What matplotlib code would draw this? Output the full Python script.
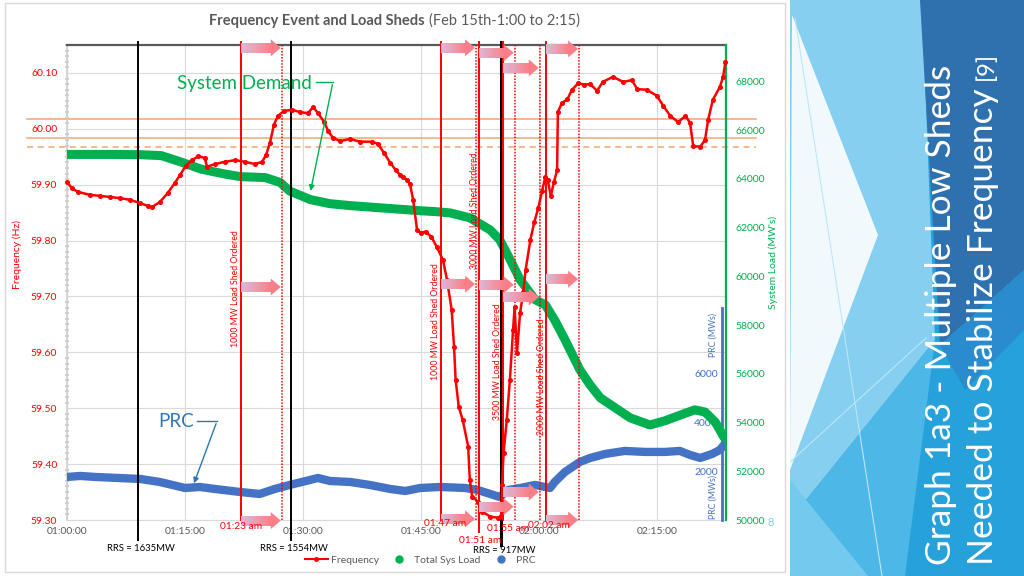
import numpy as np
import matplotlib
matplotlib.use("Agg")
import matplotlib.pyplot as plt
from matplotlib.lines import Line2D
from matplotlib.patches import Polygon, Rectangle
from matplotlib.ticker import FixedLocator, MultipleLocator, FuncFormatter
from matplotlib.colors import to_rgb

plt.rcParams['font.family'] = ['Lato', 'DejaVu Sans']

# ---- data (time = minutes after 01:00) ----
freq_t = [0.0, 0.6, 1.4, 2.9, 4.2, 5.5, 6.7, 8.0, 9.3, 10.3, 10.8, 11.8, 12.8, 13.7, 14.4,
          15.1, 15.9, 16.7, 17.5, 17.8, 18.8, 20.1, 21.4, 22.6, 23.9, 24.8, 25.3, 25.8, 26.3,
          26.8, 27.6, 28.6, 29.6, 30.6, 31.3, 31.9, 32.7, 33.2, 33.8, 34.7, 36.0, 37.2, 38.8,
          39.5, 40.3, 41.1, 41.8, 42.3, 42.7, 43.2, 43.6, 44.0, 44.5, 45.0, 45.6, 46.3, 47.0,
          47.8, 48.3, 48.9, 49.2, 49.4, 49.8, 50.3, 51.0, 51.2, 51.5, 52.2, 52.8, 53.8, 54.8,
          55.2, 55.3, 55.5, 55.9, 56.3, 56.7, 56.9, 57.2, 57.6, 58.0, 58.3, 58.9, 59.4, 59.9,
          60.4, 60.8, 61.1, 61.5, 61.9, 62.3, 62.4, 62.9, 63.6, 64.2, 65.0, 65.7, 66.5, 67.4,
          68.1, 69.4, 70.7, 71.8, 72.5, 73.7, 75.0, 75.8, 76.7, 77.7, 78.6, 79.2, 79.6, 80.5,
          81.1, 81.5, 82.1, 83.0, 83.4, 83.7]
freq_hz = [59.905, 59.894, 59.887, 59.882, 59.880, 59.878, 59.876, 59.873, 59.867, 59.862,
           59.860, 59.869, 59.885, 59.903, 59.918, 59.934, 59.944, 59.951, 59.948, 59.932,
           59.937, 59.941, 59.944, 59.941, 59.937, 59.941, 59.953, 59.975, 60.007, 60.023,
           60.032, 60.034, 60.030, 60.028, 60.039, 60.028, 60.012, 59.996, 59.984, 59.978,
           59.982, 59.977, 59.977, 59.973, 59.957, 59.939, 59.926, 59.918, 59.914, 59.909,
           59.901, 59.873, 59.819, 59.814, 59.816, 59.807, 59.789, 59.765, 59.730, 59.676,
           59.610, 59.551, 59.502, 59.479, 59.431, 59.372, 59.342, 59.333, 59.315, 59.306,
           59.304, 59.308, 59.363, 59.420, 59.479, 59.551, 59.640, 59.681, 59.599, 59.671,
           59.708, 59.748, 59.801, 59.833, 59.858, 59.889, 59.914, 59.909, 59.880, 59.905,
           59.926, 60.030, 60.046, 60.053, 60.070, 60.082, 60.079, 60.080, 60.068, 60.084,
           60.093, 60.084, 60.087, 60.071, 60.070, 60.059, 60.041, 60.023, 60.012, 60.023,
           60.011, 59.969, 59.968, 59.980, 60.016, 60.052, 60.075, 60.093, 60.120]

load_t = [0.0, 5.0, 9.3, 12.0, 14.4, 17.0, 20.0, 22.0, 25.2, 27.1, 28.3, 30.9, 33.4, 36.0,
          39.8, 44.9, 47.0, 48.7, 51.2, 53.8, 55.0, 56.3, 57.6, 59.5, 60.8, 62.0, 63.3, 65.2,
          66.5, 67.8, 69.7, 71.6, 74.1, 76.0, 78.0, 79.8, 81.1, 82.4, 83.5]
load_mw = [65000, 65000, 64990, 64950, 64700, 64400, 64200, 64090, 64050, 63850, 63500, 63150,
           62980, 62900, 62810, 62690, 62650, 62600, 62400, 61900, 61500, 60700, 59860, 59040,
           58830, 58200, 57400, 56160, 55540, 55010, 54600, 54190, 53900, 54070, 54310, 54520,
           54430, 54020, 53400]

prc_t = [0.0, 1.7, 3.6, 9.3, 11.8, 15.0, 16.9, 18.8, 22.0, 24.5, 26.4, 28.3, 30.9, 31.9, 33.4,
         36.0, 38.5, 41.1, 43.0, 44.9, 47.4, 50.6, 52.2, 53.8, 55.0, 56.1, 57.6, 59.5, 61.4,
         62.0, 63.3, 65.2, 66.5, 68.4, 70.9, 73.5, 76.0, 77.9, 79.2, 80.5, 82.0, 83.0, 83.5]
prc_mw = [1766, 1807, 1766, 1684, 1560, 1314, 1355, 1273, 1150, 1068, 1273, 1437, 1643, 1725,
          1602, 1560, 1437, 1273, 1191, 1314, 1355, 1314, 1232, 1068, 945, 1232, 1314, 1437,
          1314, 1560, 1971, 2382, 2546, 2710, 2834, 2793, 2793, 2834, 2669, 2546, 2710, 2875, 3080]

shed_order = [22.1, 47.5, 52.4, 55.4, 60.9]        # solid red lines
shed_done = [27.3, 52.0, 56.9, 60.1, 65.1]         # dotted red lines
shed_mw_text = ['1000 MW Load Shed Ordered', '1000 MW Load Shed Ordered',
                '3000 MW Load Shed Ordered', '3500 MW Load Shed Ordered',
                '2000 MW Load Shed Ordered']
shed_text_y = [59.714, 59.655, 59.853, 59.583, 59.556]
shed_time = ['01:23 am', '01:47 am', '01:51 am', '01:55 am', '02:02 am']
shed_time_x = [22.1, 48.0, 52.5, 56.1, 61.3]
shed_time_y = [59.288, 59.293, 59.264, 59.284, 59.291]
arrow_top = [60.145, 60.145, 60.136, 60.109, 60.143]
arrow_mid = [59.717, 59.722, 59.721, 59.699, 59.731]
arrow_bot = [59.299, 59.302, 59.324, 59.350, 59.300]

rrs_t = [9.0, 28.5, 55.2]
rrs_labels = ['RRS = 1635MW', 'RRS = 1554MW', 'RRS = 917MW']

band_solid = [60.017, 59.983]
band_dashed = [59.967]

RED = '#FF0000'
GREEN = '#00B050'
BLUE = '#4472C4'
GREY = '#595959'

fig = plt.figure(figsize=(10.24, 5.76), dpi=100)
W, H = 1024, 576
fig.add_artist(Rectangle((5 / W, 1 - 572 / H), 780 / W, 569 / H, transform=fig.transFigure,
                         facecolor='none', edgecolor='#D9D9D9', lw=1, zorder=-1))

pos = [67 / W, 1 - 520 / H, (726 - 67) / W, (520 - 45) / H]
ax = fig.add_axes(pos)
ax2 = ax.twinx()
ax3 = ax.twinx()
ax4 = ax.twinx()
ax.set_zorder(0)
ax3.set_zorder(0.5)
ax2.set_zorder(1)
ax4.set_zorder(2)

xmax = 83.77
for a in (ax, ax2, ax3, ax4):
    a.set_xlim(0, xmax)
ax.set_ylim(59.30, 60.150)
ax4.set_ylim(59.30, 60.150)
ax2.set_ylim(50000, 69490)
ax3.set_ylim(0, 19490)

# frequency axis
ax.xaxis.set_major_locator(FixedLocator([0, 15, 30, 45, 60, 75]))
ax.xaxis.set_major_formatter(FuncFormatter(lambda v, p: '%02d:%02d:00' % (1 + int(v) // 60, int(v) % 60)))
ax.yaxis.set_major_locator(FixedLocator(np.round(np.arange(59.30, 60.11, 0.10), 2)))
ax.yaxis.set_minor_locator(MultipleLocator(0.01))
ax.yaxis.set_major_formatter(FuncFormatter(lambda v, p: '%.2f' % v))
ax.tick_params(axis='y', which='major', length=0, pad=7, labelsize=7.5, labelcolor=RED)
ax.tick_params(axis='y', which='minor', length=3, width=1.2, color='#C8C8C8', direction='inout')
ax.tick_params(axis='x', length=0, pad=5, labelsize=7.5, labelcolor=GREY)
ax.grid(True, which='major', color='#D9D9D9', lw=0.8)
ax.spines['top'].set_color(GREY)
ax.spines['top'].set_linewidth(1.6)
ax.spines['left'].set_color('#D0D0D0')
ax.spines['left'].set_linewidth(1.2)
ax.spines['bottom'].set_color('#D9D9D9')
ax.spines['right'].set_visible(False)

for y in band_solid:
    ax.axhline(y, xmin=-0.0607, xmax=1.0455, color='#F4A56A', lw=1.1, clip_on=False)
for y in band_dashed:
    ax.axhline(y, xmin=-0.0607, xmax=1.0455, color='#F4A56A', lw=1.1, ls=(0, (4, 3)), clip_on=False)

# load axis
ax2.yaxis.set_major_locator(FixedLocator(np.arange(50000, 68001, 2000)))
ax2.tick_params(axis='y', length=0, pad=7, labelsize=7.5, labelcolor=GREEN)
for s in ('top', 'left', 'bottom'):
    ax2.spines[s].set_visible(False)
ax2.spines['right'].set_color(GREEN)
ax2.spines['right'].set_linewidth(1.6)
ax2.plot(load_t, load_mw, color=GREEN, lw=6.5, solid_capstyle='round', solid_joinstyle='round')

# PRC axis
for s in ('top', 'right', 'bottom'):
    ax3.spines[s].set_visible(False)
ax3.spines['left'].set_visible(True)
ax3.spines['left'].set_position(('axes', (722 - 67) / (726 - 67)))
ax3.spines['left'].set_color(BLUE)
ax3.spines['left'].set_linewidth(2)
ax3.spines['left'].set_bounds(0, 8700)
ax3.yaxis.set_ticks_position('left')
ax3.yaxis.set_major_locator(FixedLocator([2000, 4000, 6000]))
ax3.tick_params(axis='y', length=0, pad=3, labelsize=7.5, labelcolor=BLUE)
ax3.plot(prc_t, prc_mw, color=BLUE, lw=6, solid_capstyle='round', solid_joinstyle='round')
for yy in (950, 7600):
    ax3.text(0.981, yy, 'PRC (MWs)', transform=ax3.get_yaxis_transform(), rotation=90,
             ha='center', va='center', fontsize=6.3, color=BLUE)

# overlay axis (frequency scale) for lines, markers and notes
ax4.axis('off')
xt = ax4.get_xaxis_transform()
for t in rrs_t:
    ax4.axvline(t, ymin=-0.042, ymax=1.006, color='black', lw=1.4, clip_on=False, zorder=3)
ax4.axvline(rrs_t[-1], ymin=-0.053, ymax=1.006, color='black', lw=2.2, clip_on=False, zorder=3)
for i, (t, lab) in enumerate(zip(rrs_t, rrs_labels)):
    ax4.text(t + 0.4, -0.059 - (0.006 if i == 2 else 0), lab, transform=xt, ha='center',
             va='center', fontsize=6.8, color='black')

for i, t in enumerate(shed_order):
    low = -0.025 if i == 2 else 0.0
    ax4.axvline(t, ymin=low, ymax=1.006, color=RED, lw=1.4, clip_on=False, zorder=4)
for t in shed_done:
    ax4.axvline(t, ymin=0, ymax=1, color=RED, lw=1.1, ls=(0, (1, 1)), zorder=4)

ax4.plot(freq_t, freq_hz, color=RED, lw=1.8, marker='o', ms=2.6, zorder=5, clip_on=False)

for t, txt, y in zip(shed_order, shed_mw_text, shed_text_y):
    ax4.annotate(txt, (t, y), xytext=(-5, 0), textcoords='offset pixels', rotation=90,
                 ha='center', va='center', fontsize=6.3, color=RED, zorder=6)
for x, y, lab in zip(shed_time_x, shed_time_y, shed_time):
    ax4.text(x, y, lab, ha='center', va='center', fontsize=7.3, color=RED, zorder=9)

c0 = np.array(to_rgb('#D9BBDB'))
c1 = np.array(to_rgb('#FB7F88'))


def grad_arrow(a, x0, x1, yc, nseg=24):
    tr = a.transData
    (px0, py), (px1, _) = tr.transform([(x0, yc), (x1, yc)])
    px1 -= 1
    bh, hh, hl = 5, 8.5, 10
    xb = np.linspace(px0, px1 - hl, nseg + 1)
    for k in range(nseg):
        col = c0 + (c1 - c0) * (k + 0.5) / nseg
        v = tr.inverted().transform([(xb[k], py - bh), (xb[k + 1] + 0.6, py - bh),
                                     (xb[k + 1] + 0.6, py + bh), (xb[k], py + bh)])
        a.add_patch(Polygon(v, closed=True, facecolor=col, edgecolor='none',
                            clip_on=False, zorder=7))
    v = tr.inverted().transform([(px1 - hl, py - hh), (px1, py), (px1 - hl, py + hh)])
    a.add_patch(Polygon(v, closed=True, facecolor=c1, edgecolor='none', clip_on=False, zorder=7))


for t0, t1, ya, yb, yc in zip(shed_order, shed_done, arrow_top, arrow_mid, arrow_bot):
    for yy in (ya, yb, yc):
        grad_arrow(ax4, t0, t1, yy)

# callouts
ax4.text(22.56, 60.082, 'System Demand', ha='center', va='center', fontsize=13.5, color=GREEN, zorder=8)
ax4.plot([31.65, 33.81], [60.084, 60.084], color=GREEN, lw=1, zorder=8)
ax4.annotate('', xy=(30.89, 59.884), xytext=(33.81, 60.084),
             arrowprops=dict(arrowstyle='-|>', color=GREEN, lw=1, mutation_scale=8), zorder=8)
ax4.text(13.86, 59.477, 'PRC', ha='center', va='center', fontsize=13.5, color='#2E75B6', zorder=8)
ax4.plot([16.52, 19.07], [59.477, 59.477], color='#2E75B6', lw=1, zorder=8)
ax4.annotate('', xy=(16.02, 59.361), xytext=(19.07, 59.477),
             arrowprops=dict(arrowstyle='-|>', color='#2E75B6', lw=1, mutation_scale=8), zorder=8)

for a in (ax, ax2, ax3, ax4):
    a.set_xlim(0, xmax)
ax4.set_ylim(59.30, 60.150)

# axis titles, title, legend
fig.text(17 / W, 1 - 255 / H, 'Frequency (Hz)', rotation=90, ha='center', va='center',
         fontsize=7.5, color=RED)
fig.text(773 / W, 1 - 262 / H, "System Load (MW's)", rotation=90, ha='center', va='center',
         fontsize=7.5, color=GREEN)
fig.text(425 / W, 1 - 21 / H, 'Frequency Event and Load Sheds', ha='right', va='center',
         fontsize=10.5, weight='bold', color=GREY)
fig.text(429 / W, 1 - 21 / H, '(Feb 15th-1:00 to 2:15)', ha='left', va='center',
         fontsize=10.5, color=GREY)
fig.text(771 / W, 1 - 522 / H, '8', ha='center', va='center', fontsize=8, color='#7FD0F0')

handles = [Line2D([], [], color=RED, lw=1.5, marker='o', ms=2.5),
           Line2D([], [], color=GREEN, ls='none', marker='o', ms=5),
           Line2D([], [], color=BLUE, ls='none', marker='o', ms=5)]
fig.legend(handles, ['Frequency', 'Total Sys Load', 'PRC'], loc='center',
           bbox_to_anchor=(420 / W, 16 / H), ncol=3, frameon=False, fontsize=7.5,
           handlelength=2.2, handletextpad=0.35, columnspacing=0.8, labelcolor=GREY)

# right decorative panel
bg = fig.add_axes([790 / W, 0, 234 / W, 1])
bg.set_xlim(790, 1024)
bg.set_ylim(576, 0)
bg.axis('off')
shapes = [
    ([(790, 0), (1024, 0), (1024, 576), (790, 576)], '#27A1DA'),
    ([(790, 0), (922, 0), (935, 340), (790, 520)], '#86CFF0'),
    ([(792, 15), (878, 235), (848, 315), (790, 470)], '#F2F9FD'),
    ([(920, 0), (1024, 0), (1024, 270), (940, 345)], '#2F70AE'),
    ([(940, 345), (1024, 270), (1024, 330), (965, 390)], '#2A8CCC'),
    ([(790, 520), (935, 340), (905, 576), (790, 576)], '#4DB7E7'),
    ([(790, 480), (868, 576), (790, 576)], '#74C9EF'),
]
for verts, col in shapes:
    bg.add_patch(Polygon(verts, closed=True, facecolor=col, edgecolor='none'))
bg.plot([795, 882], [18, 576], color='#BDE6F7', lw=0.8)
bg.plot([790, 926], [462, 338], color='#BDE6F7', lw=0.8)

fig.text(951 / W, 1 - 565 / H, 'Graph 1a3 - Multiple Low Sheds', rotation=90,
         rotation_mode='anchor', ha='left', va='baseline', fontsize=25.5, color='white')
fig.text(993 / W, 1 - 565 / H, 'Needed to Stabilize Frequency', rotation=90,
         rotation_mode='anchor', ha='left', va='baseline', fontsize=25.5, color='white')
fig.text(993 / W, 1 - 80 / H, '[9]', rotation=90, rotation_mode='anchor', ha='left',
         va='baseline', fontsize=17, color='white')

fig.savefig('out.png', dpi=100)
